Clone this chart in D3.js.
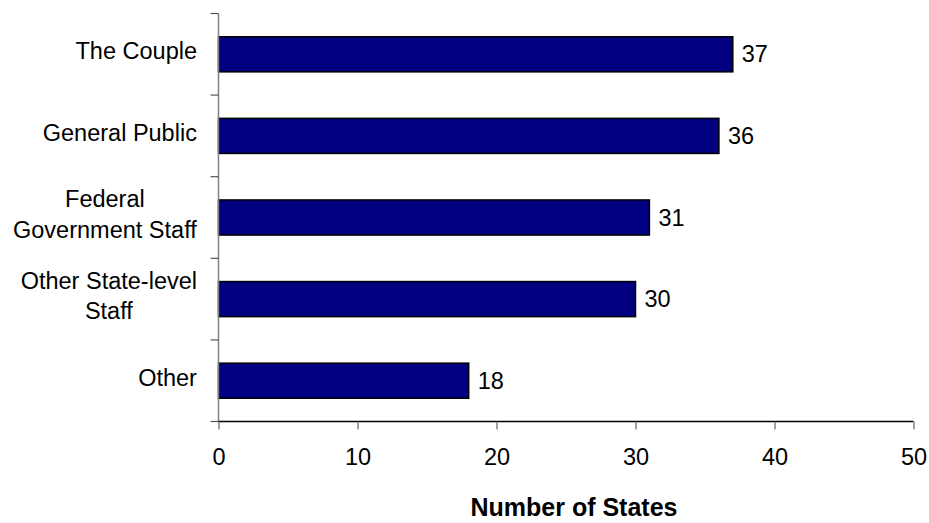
<!DOCTYPE html>
<html>
<head>
<meta charset="utf-8">
<script src="https://cdn.jsdelivr.net/npm/d3@7"></script>
<style>
  body { margin: 0; background: #fff; }
  svg { display: block; font-family: "Liberation Sans", Arial, sans-serif; }
</style>
</head>
<body>
<svg id="chart" width="929" height="523"></svg>
<script>
const categories = ["The Couple", "General Public", "Federal Government Staff", "Other State-level Staff", "Other"];
const categoryLines = [["The Couple"], ["General Public"], ["Federal", "Government Staff"], ["Other State-level", "Staff"], ["Other"]];
const values = [37, 36, 31, 30, 18];
const xTicks = [0, 10, 20, 30, 40, 50];
const xTitle = "Number of States";

(function () {
const svg = d3.select("#chart");
const pLeft = 218.5, pRight = 913.5, pTop = 13.5, pBottom = 421.5;

const x = d3.scaleLinear().domain([0, 50]).range([pLeft, pRight]);
const y = d3.scaleBand().domain(categories).range([pTop, pBottom]).paddingInner(0.57).paddingOuter(0.285);

// bars
svg.append("g").selectAll("rect").data(categories).join("rect")
  .attr("x", x(0))
  .attr("y", d => y(d))
  .attr("width", (d, i) => x(values[i]) - x(0))
  .attr("height", y.bandwidth())
  .attr("fill", "#000080")
  .attr("stroke", "#000")
  .attr("stroke-width", 1.5);

// value labels
svg.append("g").selectAll("text").data(categories).join("text")
  .attr("x", (d, i) => x(values[i]) + 9)
  .attr("y", d => y(d) + y.bandwidth() / 2 + 8)
  .attr("font-size", "23.5px")
  .attr("fill", "#000")
  .text((d, i) => values[i]);

// y axis
const yAxis = d3.axisLeft(y).tickSize(0).tickFormat("");
const gy = svg.append("g").attr("transform", `translate(${pLeft},0)`).call(yAxis);
gy.select(".domain").attr("stroke", "#808080").attr("stroke-width", 1.5).attr("d", `M0,${pTop}V${pBottom}`);
const step = y.step();
const boundaries = d3.range(categories.length + 1).map(i => pTop + i * step);
gy.selectAll("line.bound").data(boundaries).join("line")
  .attr("class", "bound")
  .attr("x1", -8).attr("x2", 0)
  .attr("y1", d => d).attr("y2", d => d)
  .attr("stroke", "#555").attr("stroke-width", 1.2);

// category labels
const labelRight = 197;
const catG = svg.append("g");
categories.forEach((c, i) => {
  const lines = categoryLines[i];
  const cy = y(c) + y.bandwidth() / 2;
  const t = catG.append("text").attr("font-size", "23.5px").attr("fill", "#000").attr("text-anchor", "middle");
  const offsets = lines.length === 1 ? [5] : [-10.5, 20];
  lines.forEach((ln, j) => {
    t.append("tspan").attr("x", 0).attr("y", cy + offsets[j]).text(ln);
  });
  const w = t.node().getBBox().width;
  t.attr("transform", `translate(${labelRight - w / 2},0)`);
});

// x axis
const xAxis = d3.axisBottom(x).tickValues(xTicks).tickSize(8).tickPadding(0).tickFormat(d3.format("d"));
const gx = svg.append("g").attr("transform", `translate(0,${pBottom})`).call(xAxis);
gx.select(".domain").attr("stroke", "#000").attr("stroke-width", 1.5).attr("d", `M${pLeft},0H${pRight}`);
gx.selectAll(".tick line").attr("stroke", "#666").attr("stroke-width", 1.2);
gx.selectAll(".tick text").attr("font-size", "23.5px").attr("fill", "#000")
  .attr("font-family", "'Liberation Sans', Arial, sans-serif")
  .attr("dy", null).attr("y", 43);

// x title
svg.append("text")
  .attr("x", 574).attr("y", 516)
  .attr("text-anchor", "middle")
  .attr("font-size", "25px")
  .attr("font-weight", "bold")
  .attr("fill", "#000")
  .text(xTitle);
})();
</script>
</body>
</html>
